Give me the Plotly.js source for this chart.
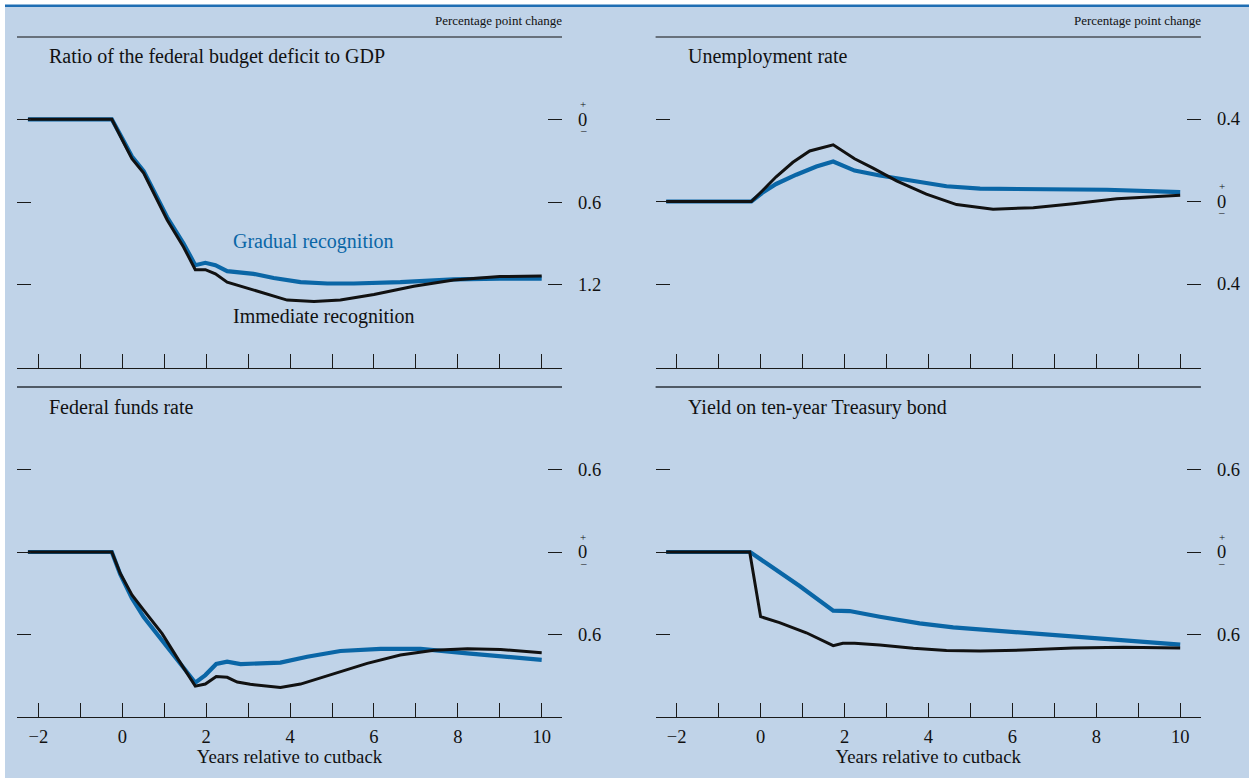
<!DOCTYPE html>
<html>
<head>
<meta charset="utf-8">
<script src="https://cdn.plot.ly/plotly-3.0.1.min.js"></script>
<style>
  html, body { margin: 0; padding: 0; background: #ffffff; }
  #chart { width: 1249px; height: 778px; }
</style>
</head>
<body>
<div id="chart"></div>
<script>
// ---------------- DATA ----------------
// Years relative to cutback (x) and percentage point change (y)

// Panel 1: Ratio of the federal budget deficit to GDP
const deficitImmX = [-2.25, -0.25, 0, 0.23, 0.51, 0.75, 1.07, 1.46, 1.74, 1.98, 2.22, 2.5, 2.82, 3.45, 3.93, 4.57, 5.2, 6.0, 6.95, 7.9, 9.0, 10];
const deficitImmY = [0, 0, -0.15, -0.285, -0.39, -0.54, -0.73, -0.925, -1.09, -1.09, -1.12, -1.18, -1.21, -1.27, -1.31, -1.32, -1.31, -1.27, -1.21, -1.165, -1.14, -1.135];
const deficitGradX = [-2.25, -0.25, 0, 0.23, 0.51, 0.75, 1.07, 1.46, 1.74, 1.98, 2.22, 2.5, 2.82, 3.13, 3.61, 4.25, 4.89, 5.52, 6.63, 7.9, 9.0, 10];
const deficitGradY = [0, 0, -0.14, -0.27, -0.375, -0.52, -0.71, -0.9, -1.057, -1.04, -1.057, -1.1, -1.11, -1.12, -1.15, -1.18, -1.19, -1.19, -1.18, -1.16, -1.155, -1.155];

// Panel 2: Unemployment rate
const unempImmX = [-2.25, -0.22, 0.06, 0.37, 0.77, 1.17, 1.73, 2.24, 2.68, 3.24, 3.95, 4.67, 5.54, 6.5, 7.45, 8.49, 10];
const unempImmY = [0, 0, 0.056, 0.12, 0.19, 0.245, 0.275, 0.207, 0.162, 0.1, 0.036, -0.015, -0.037, -0.03, -0.011, 0.013, 0.03];
const unempGradX = [-2.25, -0.22, 0.06, 0.37, 0.85, 1.33, 1.73, 2.24, 2.84, 3.64, 4.43, 5.23, 6.66, 8.25, 10];
const unempGradY = [0, 0, 0.045, 0.085, 0.13, 0.17, 0.194, 0.15, 0.126, 0.099, 0.074, 0.062, 0.058, 0.057, 0.045];

// Panel 3: Federal funds rate
const fundsImmX = [-2.25, -0.25, -0.05, 0.23, 0.51, 0.95, 1.34, 1.74, 1.98, 2.24, 2.5, 2.74, 3.05, 3.37, 3.77, 4.25, 5.04, 5.84, 6.63, 7.43, 8.23, 9.02, 10];
const fundsImmY = [0, 0, -0.154, -0.31, -0.42, -0.59, -0.78, -0.97, -0.955, -0.9, -0.906, -0.94, -0.957, -0.967, -0.98, -0.955, -0.88, -0.805, -0.745, -0.71, -0.7, -0.705, -0.728];
const fundsGradX = [-2.25, -0.25, -0.05, 0.23, 0.51, 0.95, 1.74, 1.98, 2.24, 2.5, 2.82, 3.29, 3.77, 4.41, 5.2, 6.16, 7.11, 8.23, 9.02, 10];
const fundsGradY = [0, 0, -0.16, -0.335, -0.47, -0.636, -0.945, -0.89, -0.81, -0.793, -0.81, -0.805, -0.8, -0.757, -0.716, -0.7, -0.7, -0.733, -0.757, -0.78];

// Panel 4: Yield on ten-year Treasury bond
const yieldImmX = [-2.25, -0.26, 0.0, 0.45, 1.09, 1.73, 1.96, 2.24, 2.84, 3.64, 4.43, 5.23, 6.26, 7.45, 8.65, 10];
const yieldImmY = [0, 0, -0.468, -0.511, -0.584, -0.677, -0.66, -0.66, -0.672, -0.696, -0.713, -0.716, -0.709, -0.694, -0.689, -0.694];
const yieldGradX = [-2.25, -0.25, 0.14, 0.93, 1.73, 2.12, 2.84, 3.79, 4.59, 5.86, 7.45, 9.05, 10];
const yieldGradY = [0, 0, -0.082, -0.246, -0.424, -0.427, -0.468, -0.516, -0.545, -0.576, -0.612, -0.649, -0.67];

// Tick values / labels
const xTickVals = [-2, -1, 0, 1, 2, 3, 4, 5, 6, 7, 8, 9, 10];
const xTickText = ['\u22122', '', '0', '', '2', '', '4', '', '6', '', '8', '', '10'];
const deficitTickVals = [0, -0.6, -1.2];
const deficitTickText = ['0', '0.6', '1.2'];
const unempTickVals = [0.4, 0, -0.4];
const unempTickText = ['0.4', '0', '0.4'];
const rateTickVals = [0.6, 0, -0.6];
const rateTickText = ['0.6', '0', '0.6'];

const panelTitles = ['Ratio of the federal budget deficit to GDP', 'Unemployment rate', 'Federal funds rate', 'Yield on ten-year Treasury bond'];
const unitLabel = 'Percentage point change';
const xTitle = 'Years relative to cutback';
const seriesNames = ['Gradual recognition', 'Immediate recognition'];

// ---------------- STYLE ----------------
const W = 1249, H = 778;
const BG = '#c0d3e8';
const BLUE = '#0a66a6';
const INK = '#111111';
const FONT = 'Liberation Serif, Times New Roman, serif';

const px = v => v / W;
const py = v => 1 - v / H;

const domLeft = [px(17), px(562)];
const domRight = [px(655.6), px(1200.9)];
const domTop = [py(368), py(37)];
const domBot = [py(717), py(387)];

const xRangeL = [(17 - 122.3) / 41.94, (562 - 122.3) / 41.94];
const xRangeR = [(655.6 - 760.6) / 41.96, (1200.9 - 760.6) / 41.96];

function xAxis(domain, range, anchor, labels) {
  return {
    domain: domain, range: range, anchor: anchor,
    showgrid: false, zeroline: false,
    showline: true, linecolor: '#1a1a1a', linewidth: 1.3,
    ticks: 'inside', ticklen: 14, tickwidth: 1, tickcolor: '#1a1a1a',
    tickmode: 'array', tickvals: xTickVals, ticktext: xTickText,
    showticklabels: labels, ticklabelstandoff: 2,
    tickfont: { family: FONT, size: 18.5, color: INK },
    title: labels ? { text: xTitle, font: { family: FONT, size: 18.8, color: INK }, standoff: 2 } : { text: '' },
    automargin: false, fixedrange: true
  };
}
function yAxis(domain, range, anchor, vals, text) {
  return {
    domain: domain, range: range, anchor: anchor, side: 'right',
    showgrid: false, zeroline: false, showline: false,
    ticks: 'inside', ticklen: 14, tickwidth: 1, tickcolor: '#1a1a1a',
    mirror: 'ticks',
    tickmode: 'array', tickvals: vals, ticktext: text,
    ticklabelstandoff: 15,
    tickfont: { family: FONT, size: 18.5, color: INK },
    automargin: false, fixedrange: true
  };
}

function line(x, y, xa, ya, color, width, name) {
  return { type: 'scatter', mode: 'lines', x: x, y: y, xaxis: xa, yaxis: ya,
    line: { color: color, width: width, shape: 'linear' }, name: name, showlegend: false, hoverinfo: 'skip' };
}

const traces = [
  line(deficitGradX, deficitGradY, 'x', 'y', BLUE, 4.2, seriesNames[0]),
  line(deficitImmX, deficitImmY, 'x', 'y', INK, 3, seriesNames[1]),
  line(unempGradX, unempGradY, 'x2', 'y2', BLUE, 4.2, seriesNames[0]),
  line(unempImmX, unempImmY, 'x2', 'y2', INK, 3, seriesNames[1]),
  line(fundsGradX, fundsGradY, 'x3', 'y3', BLUE, 4.2, seriesNames[0]),
  line(fundsImmX, fundsImmY, 'x3', 'y3', INK, 3, seriesNames[1]),
  line(yieldGradX, yieldGradY, 'x4', 'y4', BLUE, 4.2, seriesNames[0]),
  line(yieldImmX, yieldImmY, 'x4', 'y4', INK, 3, seriesNames[1])
];

const yRange1 = [-(368 - 119.3) / 138, (119.3 - 37) / 138];
const yRange2 = [-(368 - 201.5) / 206.25, (201.5 - 37) / 206.25];
const yRange3 = [-(717 - 552) / 138.3, (552 - 387) / 138.3];

const shapes = [
  // background panel
  { type: 'rect', xref: 'paper', yref: 'paper', x0: px(5), x1: 1.01, y0: -0.01, y1: py(5), fillcolor: BG, line: { width: 0 }, layer: 'below' },
  // top blue rule
  { type: 'line', xref: 'paper', yref: 'paper', x0: px(5), x1: 1.01, y0: py(5.8), y1: py(5.8), line: { color: '#1f6eb3', width: 2.4 } },
  // panel top rules
  { type: 'line', xref: 'x domain', yref: 'y domain', x0: 0, x1: 1, y0: 1, y1: 1, line: { color: '#111', width: 1.2 } },
  { type: 'line', xref: 'x2 domain', yref: 'y2 domain', x0: 0, x1: 1, y0: 1, y1: 1, line: { color: '#111', width: 1.2 } },
  { type: 'line', xref: 'x3 domain', yref: 'y3 domain', x0: 0, x1: 1, y0: 1, y1: 1, line: { color: '#505a66', width: 2 } },
  { type: 'line', xref: 'x4 domain', yref: 'y4 domain', x0: 0, x1: 1, y0: 1, y1: 1, line: { color: '#505a66', width: 2 } }
];

function titleAnn(xa, ya, text) {
  return { xref: xa + ' domain', yref: ya + ' domain', x: 0.0587, y: 1, xshift: -2, yshift: -20, xanchor: 'left', yanchor: 'middle',
    text: text, showarrow: false, font: { family: FONT, size: 20, color: INK } };
}
function unitAnn(xa, ya) {
  return { xref: xa + ' domain', yref: ya + ' domain', x: 1, y: 1, xshift: 2, yshift: 16, xanchor: 'right', yanchor: 'middle',
    text: unitLabel, showarrow: false, font: { family: FONT, size: 13, color: INK } };
}
function pmAnns(xa, ya) {
  return [
    { xref: xa + ' domain', yref: ya, x: 1, y: 0, xshift: 21, yshift: 15, xanchor: 'center', yanchor: 'middle', borderpad: 0,
      text: '+', showarrow: false, font: { family: FONT, size: 11, color: INK } },
    { xref: xa + ' domain', yref: ya, x: 1, y: 0, xshift: 21, yshift: -11, xanchor: 'center', yanchor: 'middle', borderpad: 0,
      text: '\u2013', showarrow: false, font: { family: FONT, size: 11, color: INK } }
  ];
}

const annotations = [
  titleAnn('x', 'y', panelTitles[0]), titleAnn('x2', 'y2', panelTitles[1]),
  titleAnn('x3', 'y3', panelTitles[2]), titleAnn('x4', 'y4', panelTitles[3]),
  unitAnn('x', 'y'), unitAnn('x2', 'y2'),
  ...pmAnns('x', 'y'), ...pmAnns('x2', 'y2'), ...pmAnns('x3', 'y3'), ...pmAnns('x4', 'y4'),
  { xref: 'x', yref: 'y', x: 2.64, y: -0.889, xshift: -2, xanchor: 'left', yanchor: 'middle', text: seriesNames[0], showarrow: false,
    font: { family: FONT, size: 20, color: BLUE } },
  { xref: 'x', yref: 'y', x: 2.64, y: -1.426, xshift: -2, xanchor: 'left', yanchor: 'middle', text: seriesNames[1], showarrow: false,
    font: { family: FONT, size: 20, color: INK } }
];

const layout = {
  width: W, height: H,
  margin: { l: 0, r: 0, t: 0, b: 0, pad: 0 },
  paper_bgcolor: '#ffffff', plot_bgcolor: 'rgba(0,0,0,0)',
  font: { family: FONT, color: INK },
  showlegend: false,
  xaxis: xAxis(domLeft, xRangeL, 'y', false),
  yaxis: yAxis(domTop, yRange1, 'x', deficitTickVals, deficitTickText),
  xaxis2: xAxis(domRight, xRangeR, 'y2', false),
  yaxis2: yAxis(domTop, yRange2, 'x2', unempTickVals, unempTickText),
  xaxis3: xAxis(domLeft, xRangeL, 'y3', true),
  yaxis3: yAxis(domBot, yRange3, 'x3', rateTickVals, rateTickText),
  xaxis4: xAxis(domRight, xRangeR, 'y4', true),
  yaxis4: yAxis(domBot, yRange3, 'x4', rateTickVals, rateTickText),
  shapes: shapes,
  annotations: annotations
};

Plotly.newPlot('chart', traces, layout, { displayModeBar: false, staticPlot: true });
</script>
</body>
</html>
